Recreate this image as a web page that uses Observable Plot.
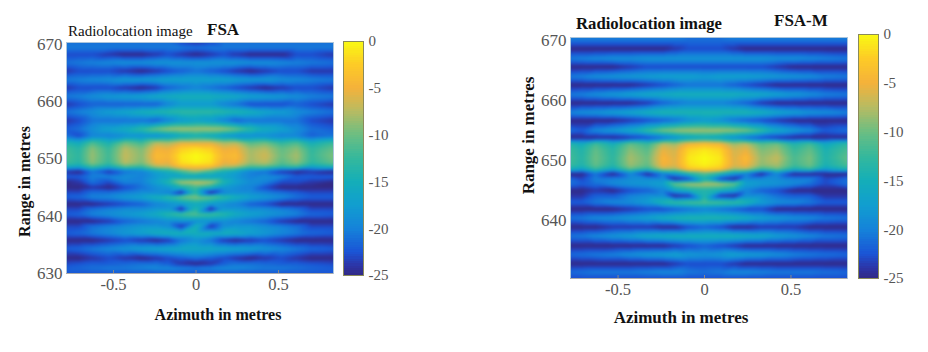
<!DOCTYPE html>
<html><head><meta charset="utf-8">
<script src="https://cdn.jsdelivr.net/npm/d3@7"></script>
<script src="https://cdn.jsdelivr.net/npm/@observablehq/plot@0.6"></script>
<style>
html,body{margin:0;padding:0;background:#fff;width:928px;height:352px;overflow:hidden}
#chart{position:relative;width:928px;height:352px;font-family:"Liberation Serif",serif}
#chart svg{position:absolute;background:none;overflow:visible}
.t{position:absolute;white-space:nowrap;color:#111;line-height:1}
</style></head><body><div id="chart"></div>
<script>
const azimuth=[-.79,-.71,-.63,-.53,-.43,-.33,-.24,-.17,-.09,0,.09,.17,.24,.33,.42,.52,.61,.7,.83];
const fsaRanges=[670.3,669.4,668.2,666.8,665.3,663.8,662.4,660.9,659.5,658.2,656.7,655.2,654,652.8,651.8,650.5,649.3,648.7,647.8,646.9,645.9,645,644.1,643.3,642.1,641.2,640.3,639.1,638.2,637,635.8,634.3,632.7,631.7,630.9,630];
const fsaValues=[
[-21,-21,-21,-21,-21,-21,-21,-21,-23,-24,-23,-21,-21,-21,-21,-21,-21,-21,-21],
[-20.5,-20.5,-20.5,-20.5,-20.5,-20.5,-20.5,-20.5,-20.5,-21,-20.5,-20.5,-20.5,-20.5,-20.5,-20.5,-20.5,-20.5,-20.5],
[-23,-23,-23,-24,-25,-25,-24,-23,-24,-25,-24,-23,-24,-25,-25,-25,-23,-23,-24],
[-21,-20.5,-20,-19.5,-19,-19,-18.5,-18.5,-18.5,-18.5,-18.5,-18.5,-18.5,-19,-19,-19.5,-20,-20.5,-21],
[-24,-23,-23,-23,-24,-25,-24,-23,-22,-21,-22,-23,-24,-25,-24,-23,-23,-24,-24],
[-20.5,-20,-19.5,-19,-18,-18,-17.5,-17,-17,-17,-17,-17,-17.5,-18,-18,-19,-19.5,-20,-20.5],
[-24,-23,-23,-23,-24,-25,-24,-22,-21,-20,-21,-22,-23,-24,-25,-24,-23,-23,-24],
[-20.5,-20,-19,-18,-17.5,-17,-16,-15.5,-15,-15,-15,-15.5,-16,-17,-17.5,-18,-19,-20,-20.5],
[-24,-23,-22,-22,-22,-22,-22,-20,-18,-18,-18,-20,-21,-23,-23,-23,-22,-23,-24],
[-21,-20,-19,-17.5,-16.5,-15,-14,-13.5,-13,-13,-13,-13.5,-14,-15,-16.5,-17.5,-19,-20,-21],
[-24,-23,-21,-21,-21,-21,-22,-20,-18,-17,-18,-20,-22,-21,-21,-21,-21,-23,-24],
[-22,-21,-19,-17,-15.5,-13,-10,-8.5,-8,-8,-8,-8.5,-10,-13,-15.5,-17,-19,-21,-22],
[-21,-23,-20,-20,-19,-19,-19,-18,-16,-15,-16,-18,-19,-19,-19,-20,-20,-22,-21],
[-14,-15.5,-11.5,-14.5,-10,-12,-7.5,-8,-6,-6,-6,-8,-7.5,-11,-10,-13,-11.5,-15,-12.5],
[-12,-13.5,-9,-12.5,-7.5,-9.5,-5,-5.5,-2.5,-1.5,-2.5,-5.5,-5,-8.5,-7.5,-10.5,-9,-13,-10.5],
[-11.5,-13,-8.5,-12,-7,-9,-4,-4.5,-1,0,-1,-4.5,-4,-8,-6.5,-10,-8,-12.5,-9.5],
[-12,-13.5,-9,-12.5,-7.5,-9.5,-5,-5.5,-1.5,-.5,-1.5,-5.5,-5,-8.5,-7.5,-11,-9,-13,-10.5],
[-15,-16,-12,-15,-10.5,-12,-7.5,-7,-3.5,-3,-3.5,-7,-7.5,-11,-10.5,-13,-12,-16,-14],
[-24,-25,-21,-24,-21,-20,-17,-15,-12,-9,-12,-15,-17,-20,-21,-24,-25,-24,-25],
[-22,-22,-20,-20,-19,-20,-18,-17,-17,-17,-17,-17,-18,-20,-19,-20,-22,-22,-22],
[-25,-24,-21,-23,-20,-20,-17,-14,-8,-7,-8,-14,-17,-19,-20,-23,-23,-24,-25],
[-25,-25,-24,-25,-23,-21,-19,-18,-15,-12,-15,-18,-19,-20,-23,-25,-25,-25,-25],
[-23,-23,-21,-21,-20,-19,-19,-20,-25,-14,-25,-20,-19,-19,-20,-21,-22,-23,-23],
[-22,-21.5,-20,-19.5,-18,-17,-15,-13,-10.5,-9,-10.5,-13,-15,-17,-18,-19.5,-21,-22,-22],
[-25,-25,-25,-24,-23,-22,-20,-19,-18,-16,-18,-19,-20,-22,-23,-25,-25,-25,-25],
[-23,-23,-21,-20,-19,-19,-18,-18,-25,-14,-25,-18,-18,-19,-19,-20,-21,-23,-23],
[-22,-21.5,-20,-19,-18,-17,-15.5,-13.5,-12,-11,-12,-13.5,-15.5,-17,-18,-19,-20,-21.5,-22],
[-25,-25,-25,-24,-22,-21,-20,-19,-19,-19,-19,-19,-20,-21,-22,-24,-25,-25,-25],
[-23,-23,-21,-20,-19,-18,-18,-19,-24,-15,-24,-19,-18,-18,-19,-20,-21,-23,-23],
[-22,-21.5,-20.5,-19.5,-18,-17,-15.5,-15,-15,-15,-15,-15,-15.5,-17,-18,-19.5,-20.5,-21.5,-22],
[-25,-25,-25,-24,-23,-24,-25,-24,-21,-19,-21,-24,-25,-24,-23,-24,-25,-25,-25],
[-22,-21.5,-20.5,-19.5,-18.5,-17.5,-17,-16.5,-16,-16,-16,-16.5,-17,-17.5,-18.5,-19.5,-20.5,-21.5,-22],
[-25,-25,-24,-23,-24,-25,-24,-23,-22,-21,-22,-23,-24,-25,-24,-23,-24,-25,-25],
[-23,-22.5,-22,-22,-21.5,-21,-21,-22,-24,-25,-24,-22,-21,-21,-21.5,-22,-22,-22.5,-23],
[-22,-21.5,-21,-20.5,-20.5,-20,-19.5,-19.5,-20,-20.5,-20,-19.5,-19.5,-20,-20.5,-20.5,-21,-21.5,-22],
[-22.5,-22.5,-22.5,-22.5,-22.5,-22.5,-22.5,-22.5,-22.5,-22.5,-22.5,-22.5,-22.5,-22.5,-22.5,-22.5,-22.5,-22.5,-22.5]
];
const fsamRanges=[670.5,669.8,668.6,667,665.6,664,662.6,661,659.6,658,656.7,655,653.8,652.8,651.8,650.4,649.2,648.6,647.8,646.9,646.1,645,644.1,643,641.9,640.4,638.9,637.4,635.8,634.3,632.8,631.4,630.3];
const fsamValues=[
[-20,-20,-20,-20,-20,-20,-20,-20,-21,-21,-21,-20,-20,-20,-20,-20,-20,-20,-20],
[-21.5,-21.5,-21.5,-21.5,-21.5,-21.5,-21.5,-21.5,-21.5,-21.5,-21.5,-21.5,-21.5,-21.5,-21.5,-21.5,-21.5,-21.5,-21.5],
[-25,-25,-25,-25,-25,-25,-25,-24,-23,-23,-23,-24,-25,-25,-25,-25,-25,-25,-25],
[-20.5,-20,-19.5,-19,-19,-18.5,-18.5,-18.5,-18.5,-18.5,-18.5,-18.5,-18.5,-18.5,-19,-19,-19.5,-20,-20.5],
[-25,-25,-25,-25,-24,-23,-23,-23,-23,-23,-23,-23,-23,-23,-24,-25,-25,-25,-25],
[-20.5,-20,-19,-18.5,-18,-17.5,-17,-17,-17,-17.5,-17,-17,-17,-17.5,-18,-18.5,-19,-20,-20.5],
[-25,-25,-25,-25,-25,-24,-23,-22,-21,-21,-21,-22,-23,-24,-25,-25,-25,-25,-25],
[-20.5,-20,-19,-18,-17,-16,-15.5,-15,-15,-15,-15,-15,-15.5,-16,-17,-18,-19,-20,-20.5],
[-25,-25,-25,-25,-25,-24,-22,-21,-20,-20,-20,-21,-22,-24,-25,-25,-25,-25,-25],
[-20,-19,-18.5,-17.5,-16.5,-15,-14,-14,-14,-14,-14,-14,-14,-15,-16.5,-17.5,-18.5,-19,-20],
[-25,-25,-25,-25,-24,-23,-22,-21,-19,-18,-19,-21,-22,-23,-24,-25,-25,-25,-25],
[-21,-22,-19.5,-18,-16,-12.5,-9.5,-8.5,-8,-8,-8,-8.5,-9.5,-12.5,-16,-18,-19.5,-22,-21],
[-25,-25,-25,-25,-24,-23,-21,-19,-17,-16,-17,-19,-21,-23,-24,-25,-25,-25,-25],
[-13.5,-15.5,-12,-15,-10.5,-12.5,-7.5,-8.5,-5,-4,-5,-8.5,-7.5,-11,-10,-14,-12,-16,-13],
[-12,-14,-10.5,-13.5,-9,-11,-5.5,-6.5,-2,-1,-2,-6.5,-5.5,-9.5,-8.5,-12.5,-10.5,-14.5,-11.5],
[-11.5,-13.5,-10,-13,-8,-10,-4.5,-6,-1,0,-1,-6,-4,-8.5,-7,-11.5,-9.5,-14,-10.5],
[-12,-14,-10.5,-13.5,-8.5,-10.5,-5,-6,-1.5,-.5,-1.5,-6,-5,-9,-8,-12,-10,-14.5,-11.5],
[-14.5,-16.5,-12.5,-16,-10.5,-13,-7.5,-8,-3,-2,-3,-8,-7.5,-12,-10,-14.5,-12.5,-17,-14],
[-25,-25,-21,-25,-20,-25,-20,-18,-14,-11,-14,-18,-20,-25,-20,-25,-25,-25,-25],
[-21,-23,-20,-20,-19,-19,-19,-25,-23,-15,-23,-25,-19,-19,-19,-20,-20,-23,-21],
[-21,-22,-21,-19.5,-18.5,-18,-17,-10,-8,-7.5,-8,-10,-17,-18,-18.5,-19.5,-21,-23,-21],
[-25,-25,-24,-25,-23,-22,-20,-17,-15,-14,-15,-17,-20,-22,-23,-25,-25,-25,-25],
[-24,-24,-22,-22,-20,-19,-19,-25,-24,-14,-24,-25,-19,-19,-21,-22,-22,-24,-24],
[-22,-22,-20.5,-19.5,-19,-17.5,-14,-12.5,-11.5,-11,-11.5,-12.5,-14,-17.5,-19,-19.5,-20.5,-22,-22],
[-25,-25,-25,-25,-24,-23,-23,-22,-21,-20,-21,-22,-23,-23,-25,-25,-25,-25,-25],
[-21,-20.5,-19.5,-19,-18,-17,-15.5,-14.5,-14,-14,-14,-14.5,-15.5,-17,-18,-19,-19.5,-20.5,-21],
[-25,-25,-25,-24,-24,-24,-25,-25,-23,-22,-23,-25,-25,-24,-24,-24,-25,-25,-25],
[-21,-20.5,-19.5,-18.5,-17.5,-16,-15.5,-15,-15,-15,-15,-15,-15.5,-16,-17.5,-18.5,-19.5,-20.5,-21],
[-25,-25,-25,-25,-25,-25,-25,-24,-23,-22,-23,-24,-25,-25,-25,-25,-25,-25,-25],
[-21.5,-21,-20.5,-20,-19,-18,-17.5,-17,-18,-18.5,-18,-17,-17.5,-18,-19,-20,-20.5,-21,-21.5],
[-25,-25,-25,-25,-25,-25,-25,-24,-23,-23,-23,-24,-25,-25,-25,-25,-25,-25,-25],
[-21.5,-21,-20.5,-20.5,-20.5,-20,-19.5,-19.5,-20.5,-21,-20.5,-19.5,-19.5,-20,-20.5,-20.5,-20.5,-21,-21.5],
[-23,-23,-23,-23,-23,-23,-23,-23,-23,-23,-23,-23,-23,-23,-23,-23,-23,-23,-23]
];
const colorStops=[-25,-24,-22.5,-20,-17.5,-15,-12.5,-10,-7.5,-5,-2.5,0];
const colorRange=["#322a85","#2c34a6","#1a55d6","#1583da","#119ecf","#14aeb8","#35b89c","#6cbe82","#b7bb62","#f5b23a","#fdcb26","#f9fb12"];
const colorbarSteps=d3.range(-25,0,0.25);
const colorTicks=[0,-5,-10,-15,-20,-25];
const color={type:"linear",domain:colorStops,range:colorRange,interpolate:"rgb",clamp:true};
const serif='"Liberation Serif",serif';
const chart=document.getElementById("chart");
function place(node,left,top){node.style.left=left+"px";node.style.top=top+"px";chart.appendChild(node);}
function flat(ranges,values){const out=[];ranges.forEach((r,i)=>azimuth.forEach((a,j)=>out.push({a,r,v:values[i][j]})));return out;}
function panel(o){
  const W=o.x2-o.x1,H=o.y2-o.y1;
  const svg=Plot.plot({width:W+2,height:H+2,marginLeft:1,marginRight:1,marginTop:1,marginBottom:1,
    style:{fontFamily:serif,background:"transparent",overflow:"visible"},
    x:{domain:o.xd,label:null},y:{domain:o.yd,label:null},color,
    marks:[
      Plot.raster(flat(o.ranges,o.values),{x:"a",y:"r",fill:"v",interpolate:"barycentric",blur:0.8}),
      Plot.frame({stroke:"#a9c4dc",strokeWidth:1}),
      Plot.ruleY([o.yd[0]],{stroke:"#aaa"}),
      Plot.axisX({ticks:[-.5,0,.5],tickFormat:d=>d===0?"0":d3.format(".1f")(d).replace("−","-"),tickSize:-3,tickPadding:o.xpad,fontSize:16.5,color:"#555",label:null,stroke:"#888"}),
      Plot.axisY({ticks:o.yticks,tickSize:0,tickPadding:4,fontSize:17,color:"#555",label:null}),
      Plot.text(["Azimuth in metres"],{frameAnchor:"bottom",dy:o.xlab,dx:o.xlabdx,fontSize:o.lab,fontWeight:"bold",fill:"#111",fontFamily:serif}),
      Plot.text(["Range in metres"],{frameAnchor:"left",textAnchor:"middle",dx:o.ylab,dy:o.ylabdy,rotate:-90,fontSize:o.lab,fontWeight:"bold",fill:"#111",fontFamily:serif})
    ]});
  place(svg,o.x1-1,o.y1-1);
}
function bar(o){
  const svg=Plot.plot({width:o.x2-o.x1+2,height:o.y2-o.y1+2,marginLeft:1,marginRight:1,marginTop:1,marginBottom:1,
    style:{fontFamily:serif,background:"transparent",overflow:"visible"},
    x:{axis:null},y:{domain:[-25,0],label:null},color,
    marks:[
      Plot.rectY(colorbarSteps,{y1:d=>d,y2:d=>d+0.25,fill:d=>d+0.125,shapeRendering:"crispEdges"}),
      Plot.frame({stroke:"#8a8a5a"}),
      Plot.axisY({anchor:"right",ticks:colorTicks,tickFormat:d=>String(d),tickSize:0,tickPadding:5,fontSize:15,color:"#555",label:null})
    ]});
  place(svg,o.x1-1,o.y1-1);
}
function text(s,left,top,size,weight){const d=document.createElement("div");d.className="t";d.textContent=s;d.style.left=left+"px";d.style.top=top+"px";d.style.fontSize=size+"px";d.style.fontWeight=weight;chart.appendChild(d);}
panel({x1:66,x2:333,y1:42,y2:273,xd:[-.785,.833],yd:[630,670.3],ranges:fsaRanges,values:fsaValues,yticks:[630,640,650,660,670],xpad:8,xlab:46,xlabdx:18,lab:16,ylab:-42,ylabdy:23.5});
bar({x1:343,x2:363,y1:41,y2:275});
panel({x1:570,x2:847,y1:37,y2:278,xd:[-.775,.827],yd:[630.33,670.5],ranges:fsamRanges,values:fsamValues,yticks:[640,650,660,670],xpad:8,xlab:44,xlabdx:-28,lab:17,ylab:-42,ylabdy:-22.5});
bar({x1:858,x2:878,y1:34,y2:278});
text("Radiolocation image",68,24,15,"normal");
text("FSA",207,20.5,17,"bold");
text("Radiolocation image",576,15.5,16.7,"bold");
text("FSA-M",774,12,17,"bold");
</script></body></html>
